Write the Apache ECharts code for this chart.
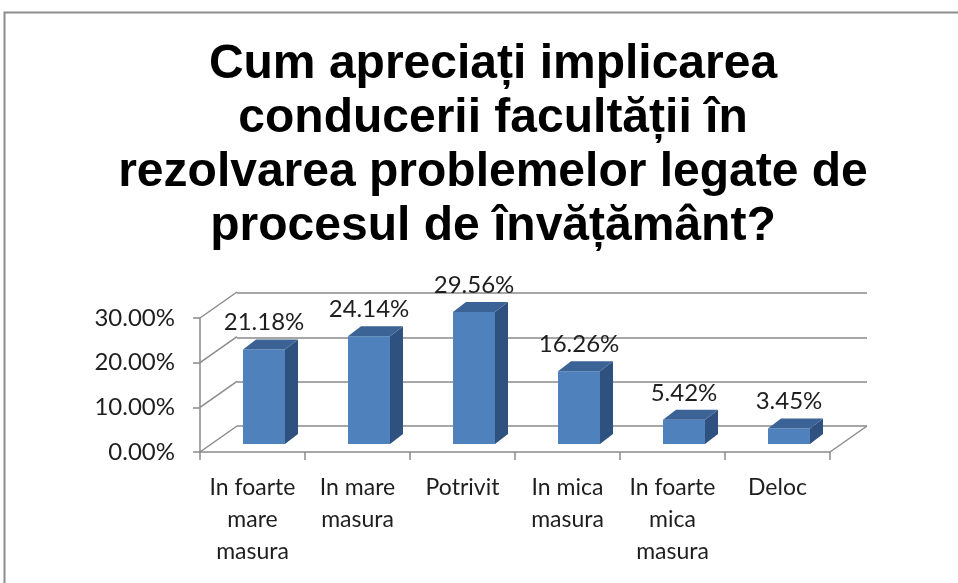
<!DOCTYPE html>
<html>
<head>
    <meta charset="utf-8">
    <script src="https://cdn.jsdelivr.net/npm/echarts@6/dist/echarts.min.js"></script>
</head>
<body style="margin:0;background-color:#ffffff">
    <div id="main" style="width:958px;height:583px;"></div>
    <script type="text/javascript">
        // date din grafic
        var categories = ['In foarte\nmare\nmasura', 'In mare\nmasura', 'Potrivit', 'In mica\nmasura', 'In foarte\nmica\nmasura', 'Deloc'];
        var values = [21.18, 24.14, 29.56, 16.26, 5.42, 3.45];
        var yTicks = [0, 10, 20, 30];
        var titleText = 'Cum apreciați implicarea\nconducerii facultății în\nrezolvarea problemelor legate de\nprocesul de învățământ?';

        var gridColor = '#8a8a8a';
        var textColor = '#1e1e1e';
        // adancimea "3D" a peretelui din spate si a barelor
        var wallDx = 37, wallDy = -26;
        var barShift = 11.5, barLift = 8, barW = 42, barDx = 13, barDy = -10;

        var myChart = echarts.init(document.getElementById('main'));

        function renderBar(params, api) {
            var i = api.value(0), v = api.value(1);
            var top = api.coord([i, v]);
            var base = api.coord([i, 0]);
            var cx = top[0] + barShift;
            var yb = base[1] - barLift;
            var yt = top[1] - barLift;
            var l = cx - barW / 2, r = cx + barW / 2;
            return {
                type: 'group',
                children: [
                    { type: 'rect', shape: { x: l, y: yt, width: barW, height: yb - yt }, style: { fill: '#4F81BD' } },
                    { type: 'polygon', shape: { points: [[r, yb], [r + barDx, yb + barDy], [r + barDx, yt + barDy], [r, yt]] }, style: { fill: '#2F5180' } },
                    { type: 'polygon', shape: { points: [[l, yt], [r, yt], [r + barDx, yt + barDy], [l + barDx, yt + barDy]] }, style: { fill: '#3B6395' } },
                    { type: 'text', style: { x: cx, y: yt - 27, text: v.toFixed(2) + '%', align: 'center', verticalAlign: 'middle', fontFamily: 'Lato', fontSize: 24, fill: textColor } }
                ]
            };
        }

        function renderDiag(params, api) {
            var y = api.coord([0, api.value(1)])[1];
            var x0 = params.coordSys.x;
            return { type: 'line', shape: { x1: x0, y1: y, x2: x0 + wallDx, y2: y + wallDy }, style: { stroke: gridColor, lineWidth: 1.5 } };
        }

        function renderFloor(params, api) {
            var y = api.coord([0, 0])[1];
            var x0 = params.coordSys.x + params.coordSys.width;
            return { type: 'line', shape: { x1: x0, y1: y, x2: x0 + wallDx, y2: y + wallDy }, style: { stroke: gridColor, lineWidth: 1.5 } };
        }

        option = {
            animation: false,
            title: {
                text: titleText,
                left: 488,
                top: 33,
                textAlign: 'center',
                textStyle: { fontFamily: 'Liberation Sans', fontWeight: 'bold', fontSize: 48, lineHeight: 54, color: '#000' }
            },
            graphic: [
                { type: 'rect', shape: { x: 4.5, y: 12.5, width: 1000, height: 1000 }, style: { fill: 'none', stroke: '#8c8c8c', lineWidth: 2 }, silent: true }
            ],
            grid: [
                { left: 200, right: 128, top: 318, bottom: 131, outerBoundsMode: 'none' },
                { left: 237, right: 91, top: 293, bottom: 157, outerBoundsMode: 'none' }
            ],
            xAxis: [
                {
                    type: 'category', gridIndex: 0, data: categories, boundaryGap: true,
                    axisLine: { lineStyle: { color: gridColor, width: 1.5 } },
                    axisTick: { show: true, length: 8, lineStyle: { color: gridColor, width: 1.5 } },
                    axisLabel: { interval: 0, margin: 20, fontFamily: 'Lato', fontSize: 23, lineHeight: 32, color: textColor },
                    splitLine: { show: false }
                },
                { type: 'category', gridIndex: 1, data: categories, show: false }
            ],
            yAxis: [
                {
                    type: 'value', gridIndex: 0, min: 0, max: 30, interval: 10,
                    axisLine: { show: true, lineStyle: { color: gridColor, width: 1.5 } },
                    axisTick: { show: true, length: 7, lineStyle: { color: gridColor, width: 1.5 } },
                    axisLabel: { margin: 25, fontFamily: 'Lato', fontSize: 24, color: textColor, formatter: function (v) { return v.toFixed(2) + '%'; } },
                    splitLine: { show: false }
                },
                {
                    type: 'value', gridIndex: 1, min: 0, max: 30, interval: 10,
                    axisLine: { show: false }, axisTick: { show: false }, axisLabel: { show: false },
                    splitLine: { show: true, lineStyle: { color: gridColor, width: 1.5 } }
                }
            ],
            series: [
                { type: 'custom', xAxisIndex: 0, yAxisIndex: 0, renderItem: renderDiag, data: yTicks.map(function (t) { return [0, t]; }), z: 1 },
                { type: 'custom', xAxisIndex: 0, yAxisIndex: 0, renderItem: renderFloor, data: [[0, 0]], z: 1 },
                { type: 'custom', xAxisIndex: 0, yAxisIndex: 0, renderItem: renderBar, data: values.map(function (v, i) { return [i, v]; }), z: 5 }
            ]
        };
        myChart.setOption(option);
    </script>
</body>
</html>
